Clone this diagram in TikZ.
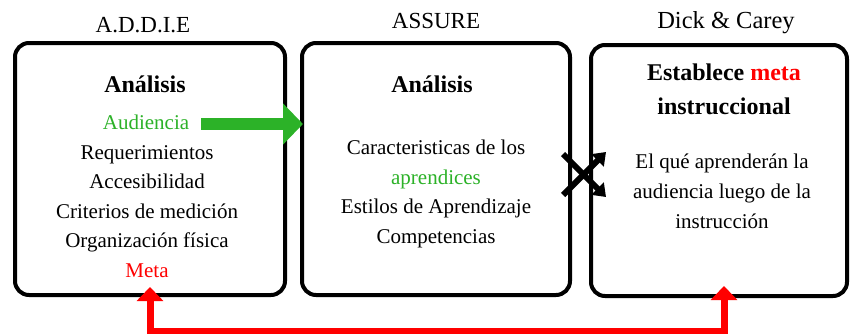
\documentclass[tikz,border=0pt]{standalone}
\usepackage{fontspec}
\newfontfamily\libserif{Liberation Serif}
\usetikzlibrary{arrows.meta}
\definecolor{grn}{RGB}{44,178,40}
\definecolor{rd}{RGB}{255,0,0}
\tikzset{
  box/.style={draw=black, line width=4pt, rounded corners=14pt, fill=white, inner sep=0pt},
  title/.style={anchor=base, font=\libserif\fontsize{23}{27}\selectfont, inner sep=0pt},
  headtxt/.style={anchor=base, font=\libserif\fontsize{24}{28}\selectfont\bfseries, inner sep=0pt},
  body/.style={anchor=base, font=\libserif\fontsize{21}{25}\selectfont, inner sep=0pt},
  greenarrow/.style={draw=grn, line width=12pt, -{Triangle[width=40pt,length=20pt]}},
  redconn/.style={draw=rd, line width=7pt, {Triangle[width=26pt,length=14pt]}-{Triangle[width=26pt,length=14pt]}},
  xarrow/.style={draw=black, line width=6pt, -{Triangle[width=17pt,length=12pt]}},
}
\begin{document}
\begin{tikzpicture}[x=1pt,y=-1pt]
\useasboundingbox (0,0) rectangle (851,333);
% boxes
\node[box, minimum width=270pt, minimum height=252pt] (b1) at (150,169) {};
\node[box, minimum width=268pt, minimum height=252pt] (b2) at (436,169) {};
\node[box, minimum width=256pt, minimum height=251pt] (b3) at (719,170.5) {};
% titles
\node[title] (t1) at (143,32) {A.D.D.I.E};
\node[title] (t2) at (436,28) {ASSURE};
\node[title, font=\libserif\fontsize{24.5}{28}\selectfont] (t3) at (726,28) {Dick \& Carey};
% box 1
\node[headtxt] (a1) at (145,92) {Análisis};
\node[body, text=grn] (aud) at (146,129) {Audiencia};
\node[body] (req) at (147,159) {Requerimientos};
\node[body] (acc) at (147,188) {Accesibilidad};
\node[body] (cri) at (147,218) {Criterios de medición};
\node[body] (org) at (147,247) {Organización física};
\node[body, text=rd] (meta) at (147,277) {Meta};
% box 2
\node[headtxt] (a2) at (432,92) {Análisis};
\node[body] (c1) at (436,154) {Caracteristicas de los};
\node[body, text=grn] (c2) at (436,184) {aprendices};
\node[body] (c3) at (436,213) {Estilos de Aprendizaje};
\node[body] (c4) at (436,243) {Competencias};
% box 3
\node[headtxt] (e1) at (724,80) {Establece \textcolor{rd}{meta}};
\node[headtxt] (e2) at (724,114) {instruccional};
\node[body] (d1) at (722,168) {El qué aprenderán la};
\node[body] (d2) at (722,198) {audiencia luego de la};
\node[body] (d3) at (722,228) {instrucción};
% green arrow
\draw[greenarrow] ([xshift=12pt,yshift=5pt]aud.base east) coordinate (gs) -- ([xshift=3pt]gs -| b2.west);
% crossed arrows
\coordinate (x1s) at ([xshift=-9pt,yshift=-26pt]b2.east);
\coordinate (x1e) at ([xshift=34pt,yshift=17pt]b2.east);
\coordinate (x2s) at ([xshift=-9pt,yshift=15pt]b2.east);
\coordinate (x2e) at ([xshift=34pt,yshift=-28pt]b2.east);
\draw[xarrow] (x2s) -- (x2e);
\draw[xarrow] (x1s) -- (x1e);
% red connector
\draw[redconn] ([yshift=10pt]b1.south) -- ++(0,44) -| ([xshift=5pt,yshift=12pt]b3.south);
\end{tikzpicture}
\end{document}
